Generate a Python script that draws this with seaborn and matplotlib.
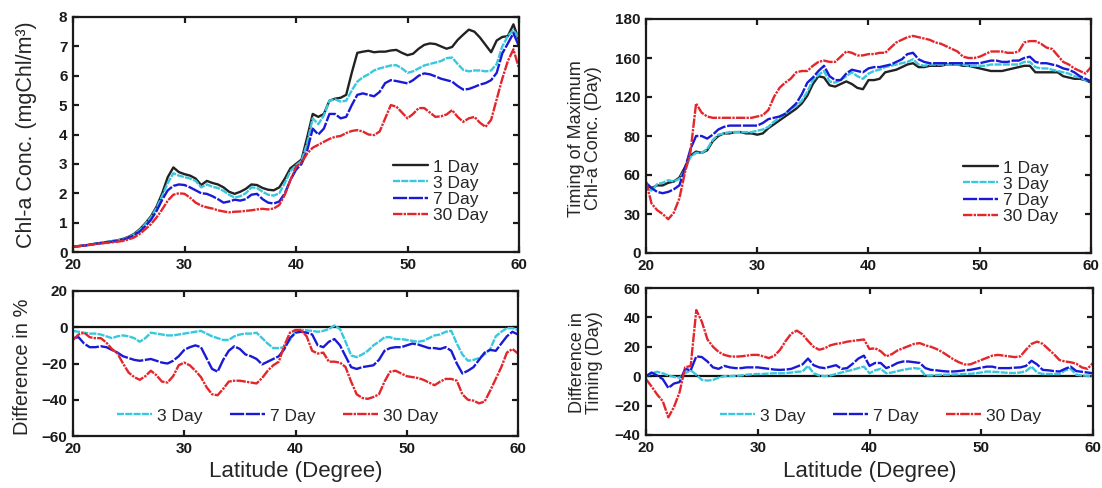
import numpy as np
import pandas as pd
import matplotlib
matplotlib.use("Agg")
import matplotlib.pyplot as plt
import seaborn as sns

# ---------------- data ----------------
lat = np.linspace(20, 60, 81)

series_names = ["1 Day", "3 Day", "7 Day", "30 Day"]

chl_1day = [0.18, 0.20, 0.22, 0.25, 0.28, 0.31, 0.34, 0.37, 0.40, 0.45,
            0.52, 0.62, 0.78, 0.98, 1.22, 1.55, 2.00, 2.55, 2.88, 2.72,
            2.65, 2.60, 2.50, 2.28, 2.42, 2.35, 2.30, 2.20, 2.05, 1.98,
            2.05, 2.15, 2.30, 2.28, 2.18, 2.12, 2.10, 2.20, 2.50, 2.85,
            3.00, 3.15, 3.90, 4.70, 4.60, 4.70, 5.15, 5.22, 5.25, 5.35,
            6.10, 6.78, 6.82, 6.85, 6.80, 6.82, 6.82, 6.86, 6.88, 6.78,
            6.70, 6.75, 6.92, 7.05, 7.10, 7.08, 7.00, 6.92, 6.98, 7.22,
            7.40, 7.57, 7.50, 7.30, 7.05, 6.80, 7.20, 7.32, 7.35, 7.75,
            7.20]
chl_3day = [0.18, 0.20, 0.22, 0.25, 0.28, 0.31, 0.34, 0.37, 0.39, 0.44,
            0.50, 0.60, 0.75, 0.95, 1.18, 1.50, 1.90, 2.35, 2.68, 2.60,
            2.55, 2.50, 2.42, 2.20, 2.30, 2.22, 2.18, 2.08, 1.95, 1.85,
            1.90, 2.00, 2.20, 2.18, 2.05, 1.95, 1.92, 2.00, 2.35, 2.75,
            2.95, 3.10, 3.70, 4.55, 4.35, 4.65, 5.15, 5.20, 5.12, 5.15,
            5.50, 5.80, 5.95, 6.05, 6.18, 6.25, 6.30, 6.35, 6.36, 6.25,
            6.10, 6.15, 6.25, 6.35, 6.40, 6.45, 6.50, 6.60, 6.62, 6.40,
            6.20, 6.15, 6.18, 6.18, 6.15, 6.18, 6.40, 7.00, 7.35, 7.55,
            7.30]
chl_7day = [0.18, 0.20, 0.22, 0.25, 0.28, 0.30, 0.33, 0.35, 0.38, 0.42,
            0.48, 0.57, 0.70, 0.88, 1.10, 1.40, 1.78, 2.10, 2.25, 2.30,
            2.28, 2.20, 2.10, 2.00, 1.98, 1.90, 1.80, 1.68, 1.72, 1.78,
            1.75, 1.80, 1.95, 1.98, 1.80, 1.68, 1.65, 1.72, 2.00, 2.45,
            2.80, 3.00, 3.45, 4.20, 4.00, 4.20, 4.70, 4.70, 4.55, 4.60,
            5.00, 5.35, 5.40, 5.35, 5.30, 5.45, 5.75, 5.85, 5.82, 5.78,
            5.74, 5.85, 6.00, 6.08, 6.05, 5.98, 5.90, 5.85, 5.80, 5.65,
            5.53, 5.55, 5.62, 5.70, 5.75, 5.85, 6.10, 6.76, 7.10, 7.45,
            7.00]
chl_30day = [0.18, 0.20, 0.22, 0.24, 0.27, 0.29, 0.31, 0.33, 0.35, 0.38,
             0.43, 0.50, 0.62, 0.78, 0.95, 1.18, 1.45, 1.75, 1.95, 2.00,
             1.98, 1.85, 1.68, 1.58, 1.52, 1.48, 1.42, 1.38, 1.35, 1.37,
             1.38, 1.40, 1.42, 1.45, 1.47, 1.45, 1.48, 1.60, 1.95, 2.45,
             2.90, 3.05, 3.35, 3.55, 3.65, 3.75, 3.85, 3.92, 3.95, 4.05,
             4.12, 4.15, 4.10, 4.00, 3.98, 4.10, 4.55, 5.00, 4.95, 4.75,
             4.55, 4.70, 4.90, 4.90, 4.75, 4.60, 4.62, 4.68, 4.83, 4.60,
             4.43, 4.55, 4.60, 4.40, 4.26, 4.50, 5.20, 5.90, 6.50, 6.90,
             6.25]

timing_1day = [52, 50, 52, 52, 54, 55, 58, 66, 75, 78,
               77, 79, 86, 90, 92, 92, 93, 93, 92, 92,
               91, 92, 96, 99, 102, 105, 108, 111, 115, 121,
               130, 136, 135, 129, 128, 130, 132, 130, 127, 126,
               133, 133, 134, 139, 140, 141, 143, 145, 146, 143,
               143, 144, 144, 144, 145, 145, 145, 144, 144, 143,
               142, 141, 140, 140, 140, 141, 142, 143, 144, 144,
               139, 139, 139, 139, 139, 136, 135, 134, 134, 133,
               131]
timing_3day = [50, 48, 53, 54, 56, 55, 57, 64, 74, 77,
               77, 80, 87, 91, 92, 93, 93, 93, 93, 93,
               94, 95, 97, 101, 104, 107, 111, 113, 117, 124,
               133, 137, 140, 132, 131, 133, 136, 139, 136, 134,
               138, 140, 141, 143, 144, 145, 146, 147, 149, 145,
               144, 145, 145, 145, 145, 145, 145, 145, 144, 144,
               144, 144, 145, 145, 145, 145, 145, 145, 147, 147,
               143, 142, 142, 141, 140, 139, 138, 136, 135, 133,
               132]
timing_7day = [54, 50, 47, 46, 47, 49, 52, 65, 80, 90,
               90, 88, 91, 95, 97, 98, 98, 98, 98, 98,
               98, 100, 103, 104, 105, 107, 111, 115, 122, 131,
               135, 140, 144, 136, 133, 133, 138, 141, 140, 139,
               142, 143, 143, 144, 145, 147, 149, 153, 154, 149,
               147, 146, 146, 146, 146, 146, 146, 146, 146, 146,
               146, 147, 148, 148, 147, 147, 148, 148, 150, 151,
               147, 146, 146, 145, 144, 142, 141, 139, 136, 134,
               132]
timing_30day = [55, 38, 33, 30, 26, 31, 42, 62, 78, 115,
                108, 105, 104, 104, 104, 104, 104, 104, 104, 104,
                105, 106, 110, 120, 127, 131, 134, 139, 140, 140,
                144, 147, 148, 147, 147, 151, 155, 154, 152, 152,
                153, 153, 154, 154, 158, 162, 164, 166, 167, 166,
                165, 164, 162, 161, 159, 157, 155, 151, 150, 150,
                151, 153, 155, 155, 155, 154, 154, 155, 162, 163,
                163, 161, 158, 157, 152, 147, 145, 142, 140, 138,
                143]
timing_ticks = [0, 30, 60, 90, 120, 150, 180]
timing_ticklabels = ["0", "30", "60", "80", "120", "160", "180"]

diff_pct_3day = [-2, -2.5, -3, -3.5, -3.5, -4, -5, -6, -5, -4.5,
                 -5, -6, -8, -6, -3, -3.5, -4, -4.5, -4.5, -4,
                 -3.5, -3, -2.5, -2, -3.5, -5, -6, -7, -7, -5,
                 -4, -3.5, -3.5, -3, -6, -9, -11.5, -11.5, -11, -7,
                 -2.5, -1.5, -1.7, -2, -2.5, -2, -1, 1, -1, -8,
                 -15.5, -16.5, -15, -13, -10, -8, -5.5, -5.5, -6.5, -6.5,
                 -7, -7.5, -8, -7.5, -6, -4.5, -4, -2.5, -2, -9,
                 -15, -18.5, -18, -17, -15, -12, -5, -2.5, -0.5, -0.5,
                 -1.5]
diff_pct_7day = [-6, -5.5, -9, -11, -11, -10.5, -11, -12.5, -14, -16,
                 -17, -18, -18.5, -18, -17.5, -18.5, -19.5, -20, -18.5, -16,
                 -12.5, -11, -10, -11, -17, -23, -24.5, -18, -13, -10.5,
                 -12, -15, -16, -17.5, -20.5, -19, -17.5, -16, -12, -6,
                 -3, -2.5, -3, -4, -10, -11, -8, -6.5, -10, -16,
                 -22, -23, -22, -21.5, -21, -18, -13, -11.5, -11, -11,
                 -10, -9, -9.5, -10.5, -11.5, -11.5, -12, -11, -13, -20,
                 -25.5, -24, -22, -18, -14, -12.5, -13, -9, -5, -2.5,
                 -4]
diff_pct_30day = [-7, -4, -3, -5.5, -6, -6, -8.5, -12, -14.5, -20,
                  -25, -27.5, -29, -27, -24, -26.5, -30, -30.5, -27, -21,
                  -19.5, -21, -24, -27.5, -33, -37, -37.5, -34, -30, -29.5,
                  -29.5, -30, -30.5, -31, -28, -24, -21, -19, -10, -3,
                  -1.5, -1.5, -5, -13, -14.5, -14, -19, -19, -19.5, -22,
                  -30, -37, -39, -39.5, -38.5, -37, -30, -24.5, -24, -25.5,
                  -27, -27.5, -28, -29, -30.5, -32, -30, -28.5, -28.5, -29.5,
                  -37, -40, -40.5, -42, -41, -35, -28.5, -22, -14, -12,
                  -14.5]

diff_t_3day = [0, 2, 3, 2, 0.5, -0.5, -1, 2, 4, 1,
               -2.5, -3, -2.5, -1, 0, 0, 0.3, 0.5, 1, 1.3,
               1.5, 1.5, 1.8, 2, 2, 2, 2.5, 3, 3.2, 7,
               2, 0.5, 0, 0.5, 1.5, 2.5, 3.5, 4.3, 5.5, 6.5,
               2, 4, 5, 2, 2.5, 3.5, 4.3, 5, 5.5, 5,
               0.5, 0.5, 0.8, 1, 1, 1.2, 1.3, 1.5, 1.6, 2,
               2.5, 3.2, 3, 2.8, 2.5, 2.2, 2.2, 2.5, 3.5, 6.5,
               2.5, 1.5, 1.5, 1.5, 1.5, 4, 5, 1, 0.5, 0.3,
               0]
diff_t_7day = [0, 2.5, 0.5, -2, -8, -5, -4, 5, 4, 13.5,
               13, 10, 6, 5, 7, 6, 5.5, 5.5, 6, 6,
               6, 5.5, 5, 4.5, 4.3, 4.5, 5, 6.5, 8, 12,
               7.5, 6, 5.5, 6.5, 7.5, 5, 5.5, 8.5, 12, 14,
               7, 9, 9, 5.5, 7, 9, 10, 10, 9.5, 9,
               5.5, 4.3, 4, 3.5, 3.2, 3.2, 3.5, 4, 4.3, 5,
               5.8, 6.5, 6.5, 5.5, 5.5, 5.5, 5.8, 6, 7, 10.5,
               8, 4.3, 4, 3.5, 3.2, 5, 6.5, 3.5, 3, 2.5,
               2]
diff_t_30day = [-2, -7, -12.5, -17, -28, -21, -11, 6, 7, 45,
                37, 25, 20, 16.5, 14.5, 13.5, 13.3, 13.5, 14, 14.5,
                14.5, 13.5, 12.3, 14, 18, 24, 29, 31, 28.5, 24,
                20, 18, 19, 21, 22, 22.5, 23.5, 24, 24.5, 25,
                18.5, 19, 17, 13.5, 15, 17.5, 19, 20.5, 22, 22.5,
                21, 20, 18.5, 16.5, 14, 11.5, 9.5, 8, 8, 9.5,
                11, 12.5, 14, 14.5, 14, 13.5, 13, 13.5, 18, 22,
                23.5, 22, 18.5, 15, 11, 10, 9.5, 8.5, 6, 5,
                9]

# ---------------- style ----------------
sns.set_theme(style="ticks")
plt.rcParams["font.family"] = ["Liberation Sans", "DejaVu Sans"]
plt.rcParams["axes.linewidth"] = 1.6
plt.rcParams["axes.edgecolor"] = "#1a1a1a"

palette = {"1 Day": "#222222", "3 Day": "#38c8de", "7 Day": "#1a1ad6", "30 Day": "#e3262b"}
dashes = {"1 Day": "", "3 Day": (3, 0.5), "7 Day": (6, 0.7), "30 Day": (4, 0.5, 1, 0.5)}

fig = plt.figure(figsize=(11.02, 4.88), dpi=100)
W, H = 1102.0, 488.0


def add_ax(x0, y0, x1, y1):
    return fig.add_axes([x0 / W, 1 - y1 / H, (x1 - x0) / W, (y1 - y0) / H])


ax_tl = add_ax(73, 17, 519, 252)
ax_tr = add_ax(646, 19, 1091, 253)
ax_bl = add_ax(73, 291, 518, 436)
ax_br = add_ax(646, 288, 1093, 435)


def draw(ax, values, names):
    frames = [pd.DataFrame({"lat": lat, "val": v, "series": n}) for n, v in zip(names, values)]
    df = pd.concat(frames, ignore_index=True)
    sns.lineplot(data=df, x="lat", y="val", hue="series", style="series",
                 hue_order=names, style_order=names,
                 palette={n: palette[n] for n in names},
                 dashes={n: dashes[n] for n in names},
                 estimator=None, sort=False, linewidth=1.7, ax=ax, legend=True)
    leg = ax.get_legend()
    handles = list(leg.legend_handles)
    labels = [t.get_text() for t in leg.get_texts()]
    leg.remove()
    return handles, labels


def finish(ax, yticks, ylim, yticklabels=None):
    ax.set_xlim(20, 60)
    ax.set_xticks([20, 30, 40, 50, 60])
    ax.set_ylim(*ylim)
    ax.set_yticks(yticks)
    if yticklabels is not None:
        ax.set_yticklabels(yticklabels)
    ax.tick_params(direction="in", top=True, right=True, length=4, width=1.6,
                   labelsize=11, pad=4, colors="#1a1a1a")
    for lab in ax.get_xticklabels() + ax.get_yticklabels():
        lab.set_fontweight("bold")
    ax.set_xlabel("")
    ax.set_ylabel("")
    for s in ax.spines.values():
        s.set_visible(True)


def put_legend(ax, handles, labels, x, y, ncol=1):
    ax.legend(handles, labels, loc="center left", bbox_to_anchor=(x / W, 1 - y / H),
              bbox_transform=fig.transFigure, frameon=False, ncol=ncol,
              fontsize=12.5, handlelength=2.0, handletextpad=0.3,
              labelspacing=0.05, columnspacing=1.6, borderpad=0, borderaxespad=0)


# top-left
h, l = draw(ax_tl, [chl_1day, chl_3day, chl_7day, chl_30day], series_names)
finish(ax_tl, range(0, 9), (0, 8))
ax_tl.set_ylabel("Chl-a Conc. (mgChl/m\u00b3)", fontsize=15.5)
ax_tl.yaxis.set_label_coords(-0.08, 0.5)
put_legend(ax_tl, h, l, 393, 191)

# top-right
h, l = draw(ax_tr, [timing_1day, timing_3day, timing_7day, timing_30day], series_names)
finish(ax_tr, timing_ticks, (0, 180), timing_ticklabels)
ax_tr.set_ylabel("Timing of Maximum\nChl-a Conc. (Day)", fontsize=13, linespacing=1.0)
ax_tr.yaxis.set_label_coords(-0.098, 0.49)
put_legend(ax_tr, h, l, 963, 192)

# bottom-left
ax_bl.axhline(0, color="#111111", lw=1.6, zorder=1)
h, l = draw(ax_bl, [diff_pct_3day, diff_pct_7day, diff_pct_30day], series_names[1:])
finish(ax_bl, [-60, -40, -20, 0, 20], (-60, 20))
ax_bl.set_ylabel("Difference in %", fontsize=14.5)
ax_bl.yaxis.set_label_coords(-0.093, 0.48)
ax_bl.set_xlabel("Latitude (Degree)", fontsize=16)
ax_bl.xaxis.set_label_coords(0.5, -0.175)
put_legend(ax_bl, h, l, 117, 416, ncol=3)

# bottom-right
ax_br.axhline(0, color="#111111", lw=1.6, zorder=1)
h, l = draw(ax_br, [diff_t_3day, diff_t_7day, diff_t_30day], series_names[1:])
finish(ax_br, [-40, -20, 0, 20, 40, 60], (-40, 60))
ax_br.set_ylabel("Difference in\nTiming (Day)", fontsize=13, linespacing=1.0)
ax_br.yaxis.set_label_coords(-0.097, 0.49)
ax_br.set_xlabel("Latitude (Degree)", fontsize=16)
ax_br.xaxis.set_label_coords(0.5, -0.175)
put_legend(ax_br, h, l, 720, 416, ncol=3)

fig.savefig("out.png", dpi=100, facecolor="white")
